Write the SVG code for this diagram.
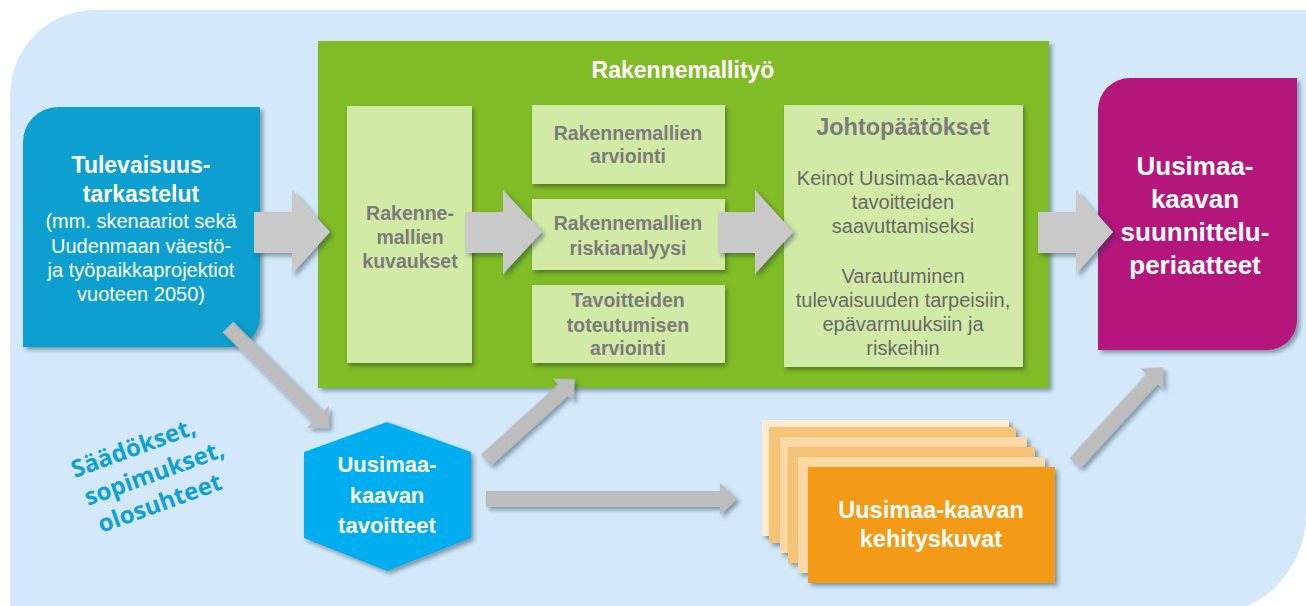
<svg xmlns="http://www.w3.org/2000/svg" width="1306" height="606" viewBox="0 0 1306 606">
<defs>
<filter id="sh" x="-10%" y="-10%" width="130%" height="130%">
<feDropShadow dx="3" dy="3" stdDeviation="2" flood-color="#1f3347" flood-opacity="0.45"/>
</filter>
<filter id="shs" x="-20%" y="-20%" width="150%" height="150%">
<feDropShadow dx="2" dy="3" stdDeviation="2" flood-color="#2c3e1a" flood-opacity="0.5"/>
</filter>
<style>
.w{font-family:"Liberation Sans",Arial,sans-serif;fill:#fff;text-anchor:middle}
.b{font-weight:bold}
.g{font-family:"Liberation Sans",Arial,sans-serif;fill:#7b7b7b;font-weight:bold;text-anchor:middle;font-size:19.5px}
.gr{font-family:"Liberation Sans",Arial,sans-serif;fill:#686868;text-anchor:middle;font-size:20px}
.lg{fill:#d1eaa5}
.blk{fill:#c9c9c9}
.thin{fill:#bdbdbd}
.card{stroke:none}
</style>
</defs>

<path id="background" d="M10,95 A85,85 0 0 1 95,10 L1306,10 L1306,515 A100,100 0 0 1 1206,615 L10,615 Z" fill="#d3e9fa"/>

<g id="saadokset" transform="translate(157,481) rotate(-20)" font-family="'Open Sans',sans-serif" font-weight="bold" font-size="24" fill="#129fd5" text-anchor="middle">
<text x="-11" y="-31">Säädökset,</text>
<text x="0" y="0">sopimukset,</text>
<text x="-5" y="30">olosuhteet</text>
</g>

<g id="tulevaisuus">
<path d="M58,107 L260,107 L260,317 A30,30 0 0 1 230,347 L23,347 L23,142 A35,35 0 0 1 58,107 Z" fill="#119fcf" filter="url(#sh)"/>
<text class="w b" font-size="23" x="141" y="173">Tulevaisuus-</text>
<text class="w b" font-size="23" x="141" y="202">tarkastelut</text>
<text class="w" font-size="20" x="141" y="228">(mm. skenaariot sekä</text>
<text class="w" font-size="20" x="141" y="253">Uudenmaan väestö-</text>
<text class="w" font-size="20" x="141" y="277">ja työpaikkaprojektiot</text>
<text class="w" font-size="20" x="141" y="301">vuoteen 2050)</text>
</g>

<g id="rakennemallityo">
<rect x="318" y="41" width="731" height="347" fill="#80bc27" filter="url(#sh)"/>
<text class="w b" font-size="23" x="683" y="78">Rakennemallityö</text>
</g>

<g id="kuvaukset">
<rect class="lg" x="347" y="106" width="125" height="257" filter="url(#shs)"/>
<text class="g" x="410" y="220">Rakenne-</text>
<text class="g" x="410" y="244">mallien</text>
<text class="g" x="410" y="268">kuvaukset</text>
</g>

<g id="arviointi">
<rect class="lg" x="532" y="105" width="193" height="79" filter="url(#shs)"/>
<text class="g" x="628" y="140">Rakennemallien</text>
<text class="g" x="628" y="163">arviointi</text>
</g>

<g id="riskianalyysi">
<rect class="lg" x="532" y="199" width="193" height="71" filter="url(#shs)"/>
<text class="g" x="628" y="230">Rakennemallien</text>
<text class="g" x="628" y="255">riskianalyysi</text>
</g>

<g id="tavoitteiden">
<rect class="lg" x="532" y="285" width="193" height="78" filter="url(#shs)"/>
<text class="g" x="628" y="307">Tavoitteiden</text>
<text class="g" x="628" y="332">toteutumisen</text>
<text class="g" x="628" y="355">arviointi</text>
</g>

<g id="johtopaatokset">
<rect class="lg" x="784" y="105" width="239" height="262" filter="url(#shs)"/>
<text class="g" font-size="23.5" x="903" y="135" style="font-size:23.5px">Johtopäätökset</text>
<text class="gr" x="903" y="185">Keinot Uusimaa-kaavan</text>
<text class="gr" x="903" y="209">tavoitteiden</text>
<text class="gr" x="903" y="233">saavuttamiseksi</text>
<text class="gr" x="903" y="283">Varautuminen</text>
<text class="gr" x="903" y="307">tulevaisuuden tarpeisiin,</text>
<text class="gr" x="903" y="331">epävarmuuksiin ja</text>
<text class="gr" x="903" y="355">riskeihin</text>
</g>

<g id="suunnitteluperiaatteet">
<path d="M1130,78 L1297,78 L1297,320 A30,30 0 0 1 1267,350 L1098,350 L1098,110 A32,32 0 0 1 1130,78 Z" fill="#b4167c" filter="url(#sh)"/>
<text class="w b" font-size="26" x="1195" y="175">Uusimaa-</text>
<text class="w b" font-size="26" x="1195" y="208">kaavan</text>
<text class="w b" font-size="26" x="1195" y="241">suunnittelu-</text>
<text class="w b" font-size="26" x="1195" y="274">periaatteet</text>
</g>

<g id="tavoitteet">
<polygon points="387,422 471,452 471,538 387,571 304,538 304,452" fill="#00aeef" filter="url(#sh)"/>
<text class="w b" font-size="22" x="387" y="472">Uusimaa-</text>
<text class="w b" font-size="22" x="387" y="503">kaavan</text>
<text class="w b" font-size="22" x="387" y="533">tavoitteet</text>
</g>

<g id="kehityskuvat">
<rect class="card" x="762" y="420" width="247" height="116" fill="#fdebd0" filter="url(#sh)"/>
<rect class="card" x="769" y="427" width="247" height="116" fill="#f6c477" filter="url(#sh)"/>
<rect class="card" x="780" y="437" width="247" height="116" fill="#fbd8a5" filter="url(#sh)"/>
<rect class="card" x="788" y="447" width="247" height="116" fill="#f6c477" filter="url(#sh)"/>
<rect class="card" x="798" y="457" width="247" height="116" fill="#fbd8a5" filter="url(#sh)"/>
<rect class="card" x="808" y="467" width="247" height="116" fill="#f39a17" filter="url(#sh)"/>
<text class="w b" font-size="23.5" x="931" y="518">Uusimaa-kaavan</text>
<text class="w b" font-size="23.5" x="931" y="547">kehityskuvat</text>
</g>

<g id="connectors" filter="url(#sh)">
<polygon class="blk" points="254,212 292,212 292,190 330,232 292,274 292,253 254,253"/>
<polygon class="blk" points="465,212 503,212 503,190 542,232 503,274 503,253 465,253"/>
<polygon class="blk" points="718,212 755,212 755,190 793,232 755,274 755,253 718,253"/>
<polygon class="blk" points="1038,212 1076,212 1076,190 1113,232 1076,274 1076,253 1038,253"/>
<polygon class="thin" transform="translate(228,327) rotate(45)" points="0,-7.5 127,-7.5 127,-15.5 143,0 127,15.5 127,7.5 0,7.5"/>
<polygon class="thin" transform="translate(486,460) rotate(-42.3)" points="0,-7.5 104,-7.5 104,-15.5 120,0 104,15.5 104,7.5 0,7.5"/>
<polygon class="thin" points="486,491 720,491 720,483 737,499 720,515 720,507 486,507"/>
<polygon class="thin" transform="translate(1075,463) rotate(-47.5)" points="0,-7.5 114,-7.5 114,-15.5 130,0 114,15.5 114,7.5 0,7.5"/>
</g>
</svg>
